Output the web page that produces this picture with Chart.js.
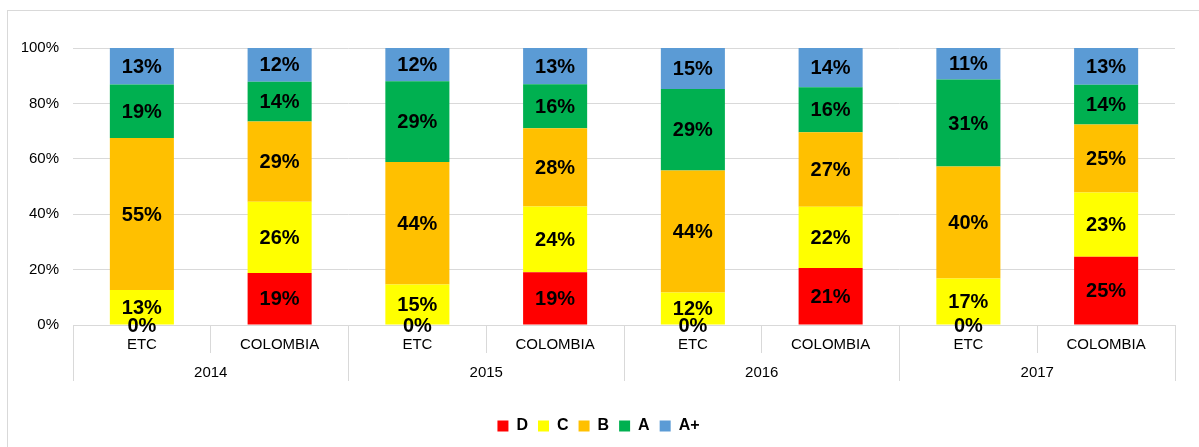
<!DOCTYPE html>
<html>
<head>
<meta charset="utf-8">
<script src="https://cdn.jsdelivr.net/npm/chart.js@4/dist/chart.umd.min.js"></script>
<style>
    html, body { margin: 0; padding: 0; background: #fff; }
    #frame {
        position: absolute;
        left: 7px;
        top: 10px;
        width: 1191px;
        height: 436px;
        border-left: 1px solid #d9d9d9;
        border-top: 1px solid #d9d9d9;
    }
    #frame canvas { display: block; }
</style>
</head>
<body>
<div id="frame"><canvas id="myChartBar" width="1191" height="436"></canvas></div>
<script>
const groups = ["ETC", "COLOMBIA", "ETC", "COLOMBIA", "ETC", "COLOMBIA", "ETC", "COLOMBIA"];
const years = ["2014", "2015", "2016", "2017"];
const levels = ["D", "C", "B", "A", "A+"];
const valuesD = [0, 18.8, 0, 19.0, 0, 20.6, 0, 24.6];
const valuesC = [12.6, 25.7, 14.6, 23.8, 11.7, 22.1, 16.8, 23.2];
const valuesB = [54.9, 29.0, 44.2, 28.2, 44.1, 26.9, 40.4, 24.6];
const valuesA = [19.3, 14.3, 29.2, 15.9, 29.4, 16.2, 31.4, 14.3];
const valuesAPlus = [13.2, 12.2, 12.0, 13.1, 14.8, 14.2, 11.4, 13.3];
const yTicks = [0, 20, 40, 60, 80, 100];

var colors = ["#ff0000", "#ffff00", "#ffc000", "#00b050", "#5b9bd5"];
var gridColor = "#d9d9d9";

Chart.defaults.font.family = '"Liberation Sans", Arial, sans-serif';
Chart.defaults.color = "#000";

// percent labels in the middle of each segment
const barLabels = {
    id: "barLabels",
    afterDatasetsDraw(chart) {
        const ctx = chart.ctx;
        ctx.save();
        ctx.font = 'bold 20px "Liberation Sans", Arial, sans-serif';
        ctx.fillStyle = "#000";
        ctx.textAlign = "center";
        ctx.textBaseline = "middle";
        chart.data.datasets.forEach((ds, i) => {
            chart.getDatasetMeta(i).data.forEach((bar, j) => {
                const y = (bar.y + bar.base) / 2;
                ctx.fillText(Math.round(ds.data[j]) + "%", bar.x, y + 1);
            });
        });
        ctx.restore();
    },
};

var seriesValues = [valuesD, valuesC, valuesB, valuesA, valuesAPlus];
var datasets = levels.map((name, i) => ({
    label: name,
    data: seriesValues[i],
    backgroundColor: colors[i],
    categoryPercentage: 1,
    barPercentage: 0.465,
}));

var ctx = document.getElementById("myChartBar");
var myBarChart = new Chart(ctx, {
    type: "bar",
    data: {
        labels: groups,
        datasets: datasets,
    },
    plugins: [barLabels],
    options: {
        responsive: false,
        animation: false,
        layout: {
            padding: { left: 14, right: 24, top: 37, bottom: 3 },
        },
        scales: {
            x: {
                stacked: true,
                grid: {
                    offset: true,
                    drawOnChartArea: false,
                    color: gridColor,
                    tickLength: 28,
                },
                border: { display: true, color: gridColor },
                ticks: { font: { size: 15 }, padding: -17, maxRotation: 0 },
                afterFit: function (scale) {
                    scale.height = 28;
                },
            },
            x2: {
                type: "category",
                position: "bottom",
                labels: years,
                grid: {
                    offset: true,
                    drawOnChartArea: false,
                    color: gridColor,
                    tickLength: 28,
                },
                border: { display: false },
                ticks: { font: { size: 15 }, padding: -17, maxRotation: 0 },
                afterFit: function (scale) {
                    scale.height = 55;
                },
            },
            y: {
                stacked: true,
                min: 0,
                max: 100,
                afterBuildTicks: function (scale) {
                    scale.ticks = yTicks.map((v) => ({ value: v }));
                },
                grid: { color: gridColor, drawTicks: false },
                border: { display: false },
                ticks: {
                    font: { size: 15 },
                    padding: 14,
                    callback: (v) => v + "%",
                },
                afterFit: function (scale) {
                    scale.width = 51;
                },
            },
        },
        plugins: {
            legend: {
                position: "bottom",
                labels: {
                    boxWidth: 11,
                    boxHeight: 11,
                    padding: 10,
                    font: { size: 16, weight: "bold" },
                },
            },
            tooltip: { enabled: false },
        },
    },
});
</script>
</body>
</html>
